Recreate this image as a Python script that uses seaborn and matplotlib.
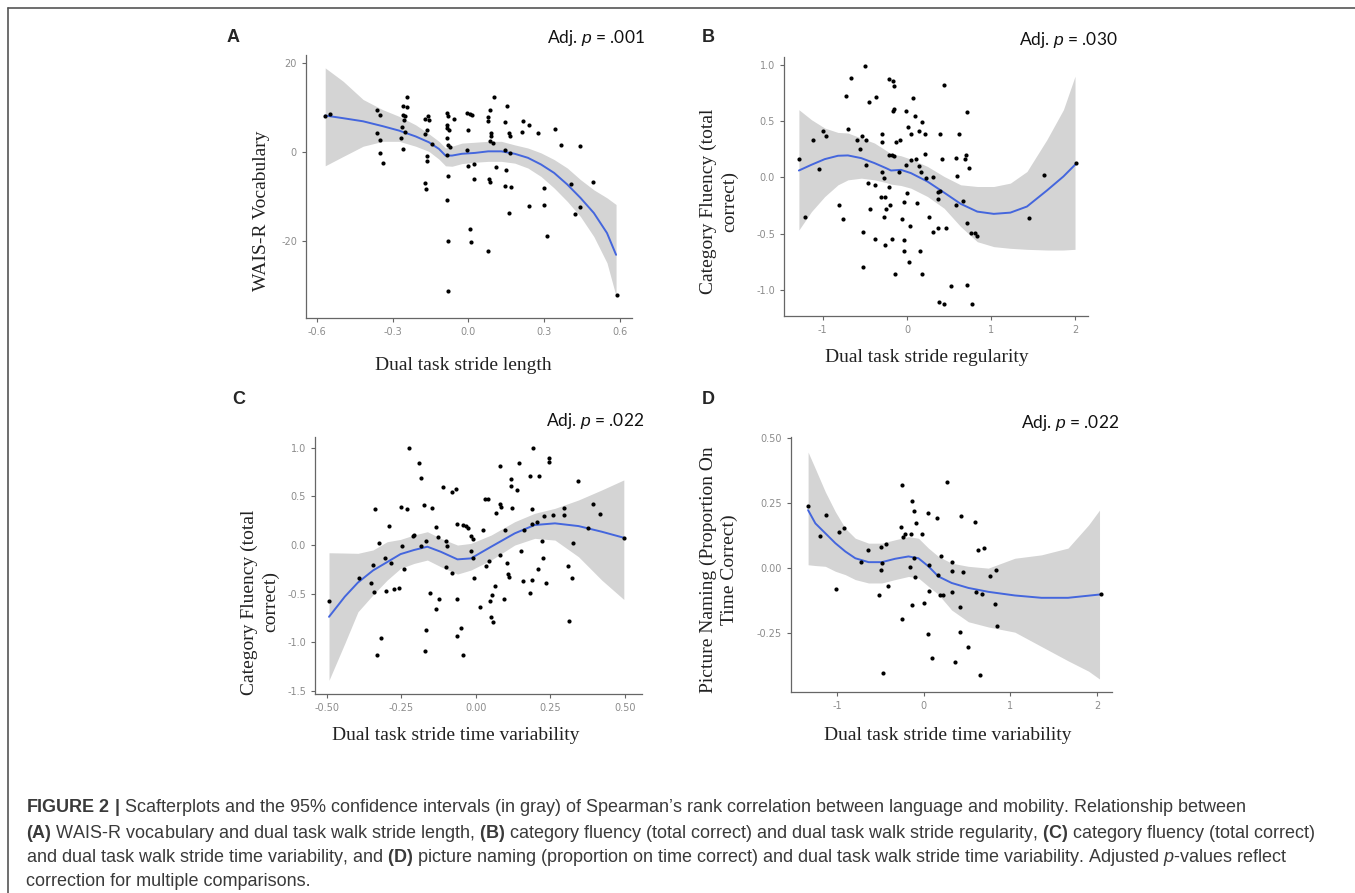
import matplotlib
matplotlib.use("Agg")
import matplotlib.pyplot as plt
import seaborn as sns
import pandas as pd
from matplotlib.lines import Line2D

sns.set_style("ticks")
plt.rcParams["mathtext.fontset"] = "custom"
plt.rcParams["mathtext.rm"] = "Liberation Sans"
plt.rcParams["mathtext.it"] = "Liberation Sans:italic"
plt.rcParams["mathtext.bf"] = "Liberation Sans:bold"

W, H = 1355, 893

# ---- panel A: WAIS-R vocabulary vs dual task stride length
a_points = [(-0.567, 8.2), (-0.548, 8.5), (-0.361, 9.4), (-0.352, 8.4), (-0.361, 4.3), (-0.35, 2.6),
            (-0.35, -0.2), (-0.338, -2.5), (-0.245, 12.4), (-0.261, 10.3), (-0.245, 10.1), (-0.26, 8.4),
            (-0.25, 8.0), (-0.256, 7.3), (-0.265, 5.6), (-0.25, 4.4), (-0.267, 3.1), (-0.26, 0.7),
            (-0.173, 7.4), (-0.159, 8.0), (-0.157, 7.1), (-0.166, 4.9), (-0.172, 4.1), (-0.146, 1.9),
            (-0.163, -1.0), (-0.163, -2.1), (-0.172, -7.0), (-0.167, -8.3), (-0.085, 8.8), (-0.082, 8.0),
            (-0.059, 7.5), (-0.085, 6.1), (-0.087, 5.4), (-0.078, 4.9), (-0.085, 3.1), (-0.082, 1.5),
            (-0.072, 1.1), (-0.085, -0.6), (-0.081, -5.3), (-0.085, -10.7), (-0.081, -20.1), (-0.082, -31.3),
            (-0.004, 8.8), (0.007, 8.6), (0.013, 8.4), (-0.003, 4.9), (-0.004, 0.4), (0.0, -3.1),
            (0.023, -2.8), (0.02, -6.0), (0.007, -17.2), (0.008, -20.2), (0.076, 7.8), (0.085, 9.4),
            (0.078, 6.9), (0.089, 4.3), (0.091, 3.7), (0.085, 2.4), (0.095, 2.0), (0.081, -6.0),
            (0.085, -6.7), (0.076, -22.2), (0.102, 12.3), (0.108, -3.4), (0.154, 10.4), (0.146, 6.7),
            (0.16, 4.3), (0.163, 3.5), (0.146, 0.4), (0.163, -0.2), (0.147, -4.1), (0.143, -7.6),
            (0.17, -7.9), (0.16, -13.7), (0.215, 6.9), (0.213, 4.6), (0.241, 6.1), (0.274, 4.3),
            (0.239, -12.1), (0.297, -8.1), (0.3, -11.8), (0.31, -18.9), (0.342, 5.2), (0.365, 1.5),
            (0.404, -7.1), (0.443, 1.3), (0.421, -13.9), (0.443, -12.4), (0.492, -6.8), (0.587, -32.1)]
a_fit_x = [-0.567, -0.496, -0.417, -0.339, -0.274, -0.209, -0.157, -0.117, -0.091, -0.065, -0.026, 0.026,
           0.078, 0.13, 0.183, 0.235, 0.287, 0.339, 0.391, 0.443, 0.496, 0.548, 0.584]
a_fit_y = [8.2, 7.6, 6.9, 5.8, 4.8, 3.5, 2.2, 0.7, -0.8, -0.8, -0.4, -0.2,
           0.15, 0.15, -0.4, -1.3, -2.8, -4.7, -7.3, -10.3, -13.7, -18.2, -23.1]
a_band_x = a_fit_x
a_band_lo = [-3.1, -1.0, 1.3, 2.4, 2.4, 1.3, 0.15, -1.6, -3.1, -3.2, -2.6, -2.3,
             -2.1, -2.1, -2.5, -3.6, -5.5, -8.1, -11.1, -14.5, -19.0, -24.9, -32.4]
a_band_hi = [18.9, 15.9, 11.8, 9.5, 8.0, 6.1, 4.1, 2.4, 0.9, 1.3, 2.0, 2.2,
             2.4, 2.4, 1.6, 0.9, -0.2, -1.7, -3.6, -6.2, -8.5, -10.3, -11.8]

# ---- panel B: category fluency vs stride regularity
b_points = [(-1.283, 0.163), (-1.205, -0.353), (-1.114, 0.329), (-1.047, 0.077), (-0.996, 0.415),
            (-0.957, 0.371), (-0.811, -0.243), (-0.76, -0.368), (-0.701, 0.43), (-0.72, 0.727),
            (-0.661, 0.884), (-0.591, 0.329), (-0.563, 0.252), (-0.531, 0.371), (-0.504, 0.991),
            (-0.492, 0.329), (-0.484, 0.107), (-0.465, -0.045), (-0.516, -0.487), (-0.516, -0.792),
            (-0.453, 0.668), (-0.433, -0.279), (-0.366, 0.715), (-0.374, -0.065), (-0.378, -0.549),
            (-0.307, -0.169), (-0.299, 0.389), (-0.295, 0.312), (-0.295, 0.053), (-0.276, -0.006),
            (-0.26, -0.175), (-0.248, -0.282), (-0.268, -0.347), (-0.26, -0.599), (-0.209, 0.875),
            (-0.169, 0.855), (-0.157, 0.816), (-0.157, 0.608), (-0.161, 0.593), (-0.209, 0.202),
            (-0.177, 0.199), (-0.15, 0.187), (-0.209, -0.08), (-0.197, -0.243), (-0.181, -0.549),
            (-0.13, 0.312), (-0.079, 0.335), (-0.091, 0.045), (-0.138, -0.861), (-0.012, 0.593),
            (0.008, 0.448), (0.047, 0.389), (0.075, 0.706), (0.094, 0.549), (-0.004, -0.134),
            (-0.039, -0.214), (-0.031, -0.555), (-0.039, -0.65), (-0.063, -0.368), (0.039, -0.427),
            (0.028, -0.748), (-0.012, 0.113), (0.047, 0.157), (0.106, 0.163), (0.118, -0.223),
            (0.138, 0.104), (0.146, 0.409), (0.173, 0.49), (0.165, 0.045), (0.217, 0.389),
            (0.217, 0.211), (0.224, -0.006), (0.157, -0.65), (0.177, -0.861), (0.264, -0.347),
            (0.311, 0.003), (0.315, -0.487), (0.37, -0.125), (0.394, -0.116), (0.37, -0.19),
            (0.374, -0.451), (0.394, 0.389), (0.413, 0.163), (0.441, 0.825), (0.469, -0.451),
            (0.382, -1.104), (0.441, -1.125), (0.528, -0.964), (0.579, 0.172), (0.579, -0.243),
            (0.598, 0.009), (0.618, 0.389), (0.669, -0.208), (0.685, 0.163), (0.705, 0.202),
            (0.717, 0.579), (0.736, 0.083), (0.709, -0.401), (0.764, -0.49), (0.803, -0.49),
            (0.835, -0.516), (0.709, -0.955), (0.776, -1.125), (1.445, -0.356), (1.63, 0.024),
            (2.004, 0.128)]
b_fit_x = [-1.283, -1.134, -0.976, -0.819, -0.701, -0.543, -0.386, -0.248, -0.189, -0.071, 0.047,
           0.244, 0.441, 0.638, 0.835, 1.031, 1.228, 1.425, 1.661, 1.858, 1.996]
b_fit_y = [0.062, 0.113, 0.163, 0.193, 0.196, 0.172, 0.128, 0.083, 0.062, 0.068, 0.039,
           -0.036, -0.134, -0.234, -0.303, -0.323, -0.312, -0.258, -0.116, 0.009, 0.113]
b_band_x = b_fit_x
b_band_lo = [-0.466, -0.303, -0.169, -0.065, -0.021, -0.006, -0.021, -0.045, -0.059, -0.071, -0.095,
             -0.169, -0.273, -0.436, -0.57, -0.614, -0.629, -0.638, -0.644, -0.644, -0.638]
b_band_hi = [0.602, 0.513, 0.439, 0.4, 0.395, 0.35, 0.306, 0.24, 0.21, 0.193, 0.163,
             0.098, 0.009, -0.065, -0.08, -0.08, -0.05, 0.053, 0.335, 0.602, 0.899]

# ---- panel C: category fluency vs stride time variability
c_points = [(-0.493, -0.576), (-0.394, -0.343), (-0.352, -0.394), (-0.343, -0.48), (-0.346, -0.203),
            (-0.338, 0.367), (-0.325, 0.017), (-0.305, -0.137), (-0.302, -0.473), (-0.293, 0.195),
            (-0.285, -0.189), (-0.276, -0.456), (-0.259, -0.439), (-0.251, 0.394), (-0.231, 0.374),
            (-0.248, -0.007), (-0.24, -0.25), (-0.226, 1.001), (-0.212, 0.093), (-0.209, 0.106),
            (-0.192, 0.847), (-0.186, 0.692), (-0.186, -0.007), (-0.175, 0.408), (-0.168, 0.041),
            (-0.154, -0.491), (-0.147, 0.384), (-0.135, 0.188), (-0.127, 0.085), (-0.124, -0.556),
            (-0.133, -0.658), (-0.109, 0.593), (-0.099, 0.041), (-0.096, -0.007), (-0.101, -0.223),
            (-0.082, 0.549), (-0.066, 0.573), (-0.081, -0.285), (-0.062, 0.213), (-0.062, -0.556),
            (-0.042, 0.206), (-0.034, 0.195), (-0.026, 0.172), (-0.017, 0.093), (-0.011, 0.058),
            (-0.017, -0.058), (-0.011, -0.13), (-0.006, -0.343), (0.014, -0.641), (0.024, 0.154),
            (0.03, 0.473), (0.04, 0.473), (0.034, -0.213), (0.045, -0.165), (0.047, -0.576),
            (0.065, -0.419), (0.054, -0.514), (0.068, 0.326), (0.079, 0.419), (0.084, 0.388),
            (0.082, 0.813), (0.082, -0.103), (0.096, 0.154), (0.094, -0.556), (0.104, -0.189),
            (0.109, -0.298), (0.11, -0.326), (0.116, 0.679), (0.116, 0.61), (0.122, 0.384),
            (0.136, 0.566), (0.144, 0.84), (0.152, -0.062), (0.16, 0.154), (0.158, -0.37),
            (0.18, -0.497), (0.182, 0.71), (0.19, 0.995), (0.189, 0.367), (0.189, 0.216),
            (0.189, -0.36), (0.204, 0.24), (0.208, -0.247), (0.212, 0.713), (0.22, 0.041),
            (0.225, -0.13), (0.229, 0.298), (0.234, -0.388), (0.244, 0.892), (0.246, 0.851),
            (0.257, 0.306), (0.296, 0.384), (0.296, 0.309), (0.31, -0.213), (0.321, -0.343),
            (0.312, -0.782), (0.327, 0.017), (0.341, 0.662), (0.375, 0.178), (0.391, 0.419),
            (0.417, 0.316), (0.496, 0.075), (-0.319, -0.953), (-0.332, -1.132), (-0.166, -0.868),
            (-0.171, -1.087), (-0.051, -0.851), (-0.062, -0.936), (-0.043, -1.132), (0.051, -0.744),
            (0.056, -0.789)]
c_fit_x = [-0.493, -0.44, -0.396, -0.345, -0.298, -0.253, -0.208, -0.163, -0.118, -0.062, -0.017,
           0.051, 0.13, 0.197, 0.265, 0.344, 0.422, 0.496]
c_fit_y = [-0.737, -0.53, -0.385, -0.26, -0.175, -0.093, -0.051, -0.017, -0.069, -0.147, -0.137,
           -0.017, 0.12, 0.206, 0.223, 0.195, 0.137, 0.075]
c_band_x = c_fit_x
c_band_lo = [-1.389, -1.01, -0.686, -0.51, -0.36, -0.24, -0.189, -0.154, -0.223, -0.298, -0.257,
             -0.154, 0.0, 0.069, 0.051, -0.12, -0.36, -0.559]
c_band_hi = [-0.079, -0.082, -0.085, -0.05, 0.034, 0.058, 0.103, 0.137, 0.069, 0.0, 0.017,
             0.103, 0.24, 0.326, 0.377, 0.463, 0.566, 0.669]

# ---- panel D: picture naming vs stride time variability
d_points = [(-1.333, 0.239), (-1.192, 0.125), (-1.123, 0.207), (-0.974, 0.141), (-0.923, 0.156),
            (-1.008, -0.079), (-0.724, 0.024), (-0.647, 0.071), (-0.514, -0.104), (-0.494, 0.081),
            (-0.483, 0.02), (-0.494, -0.008), (-0.437, 0.094), (-0.417, -0.066), (-0.253, 0.322),
            (-0.261, 0.16), (-0.241, 0.122), (-0.215, 0.131), (-0.138, 0.258), (-0.111, 0.221),
            (-0.092, 0.173), (-0.146, 0.132), (-0.164, 0.005), (-0.118, 0.039), (-0.1, -0.033),
            (-0.023, 0.132), (0.054, 0.214), (0.065, 0.014), (0.065, -0.088), (0.157, 0.195),
            (0.169, -0.024), (0.199, 0.046), (0.264, 0.332), (0.33, 0.024), (0.322, -0.011),
            (0.33, -0.092), (0.188, -0.103), (0.226, -0.104), (0.429, 0.201), (0.456, -0.014),
            (0.417, -0.148), (0.59, 0.179), (0.628, 0.069), (0.693, 0.077), (0.601, -0.092),
            (0.667, -0.1), (0.762, -0.031), (0.831, -0.005), (0.82, -0.135), (0.839, -0.221),
            (2.038, -0.1), (-0.138, -0.141), (0.008, -0.134), (-0.245, -0.196), (0.054, -0.253),
            (0.1, -0.346), (0.36, -0.358), (0.417, -0.244), (0.506, -0.302), (-0.471, -0.402),
            (0.647, -0.408)]
d_fit_x = [-1.333, -1.249, -1.134, -1.019, -0.904, -0.789, -0.636, -0.483, -0.33, -0.176, -0.061,
           0.054, 0.169, 0.322, 0.514, 0.744, 1.05, 1.356, 1.663, 2.038]
d_fit_y = [0.224, 0.173, 0.135, 0.097, 0.065, 0.039, 0.024, 0.024, 0.037, 0.046, 0.039,
           0.008, -0.031, -0.056, -0.075, -0.09, -0.104, -0.113, -0.113, -0.1]
d_band_x = [-1.333, -1.249, -1.134, -1.019, -0.904, -0.789, -0.636, -0.483, -0.33, -0.176, -0.061,
            0.054, 0.169, 0.322, 0.514, 0.744, 1.05, 1.356, 1.663, 1.9, 2.026]
d_band_lo = [0.014, 0.011, 0.008, -0.011, -0.024, -0.043, -0.056, -0.056, -0.043, -0.031, -0.037,
             -0.069, -0.1, -0.16, -0.205, -0.225, -0.245, -0.3, -0.355, -0.395, -0.425]
d_band_hi = [0.447, 0.383, 0.294, 0.218, 0.154, 0.116, 0.097, 0.097, 0.11, 0.122, 0.116,
             0.078, 0.046, 0.02, 0.008, 0.001, 0.039, 0.052, 0.078, 0.167, 0.224]

panel_letters = ["A", "B", "C", "D"]
p_labels = [r"Adj. $\mathit{p}$ = .001", r"Adj. $\mathit{p}$ = .030",
            r"Adj. $\mathit{p}$ = .022", r"Adj. $\mathit{p}$ = .022"]
x_titles = ["Dual task stride length", "Dual task stride regularity",
            "Dual task stride time variability", "Dual task stride time variability"]
y_titles = ["WAIS-R Vocabulary", "Category Fluency (total\ncorrect)",
            "Category Fluency (total\ncorrect)", "Picture Naming (Proportion On\nTime Correct)"]

a_xticks, a_xtl = [-0.6, -0.3, 0.0, 0.3, 0.6], ["-0.6", "-0.3", "0.0", "0.3", "0.6"]
a_yticks, a_ytl = [-20, 0, 20], ["-20", "0", "20"]
b_xticks, b_xtl = [-1, 0, 1, 2], ["-1", "0", "1", "2"]
b_yticks, b_ytl = [-1.0, -0.5, 0.0, 0.5, 1.0], ["-1.0", "-0.5", "0.0", "0.5", "1.0"]
c_xticks, c_xtl = [-0.5, -0.25, 0.0, 0.25, 0.5], ["-0.50", "-0.25", "0.00", "0.25", "0.50"]
c_yticks, c_ytl = [-1.5, -1.0, -0.5, 0.0, 0.5, 1.0], ["-1.5", "-1.0", "-0.5", "0.0", "0.5", "1.0"]
d_xticks, d_xtl = [-1, 0, 1, 2], ["-1", "0", "1", "2"]
d_yticks, d_ytl = [-0.25, 0.0, 0.25, 0.5], ["-0.25", "0.00", "0.25", "0.50"]

caption_lines = [
    r"$\mathbf{FIGURE\ 2\ |}$ Scafterplots and the 95% confidence intervals (in gray) of Spearman’s rank correlation between language and mobility. Relationship between",
    r"$\mathbf{(A)}$ WAIS-R vocabulary and dual task walk stride length, $\mathbf{(B)}$ category fluency (total correct) and dual task walk stride regularity, $\mathbf{(C)}$ category fluency (total correct)",
    r"and dual task walk stride time variability, and $\mathbf{(D)}$ picture naming (proportion on time correct) and dual task walk stride time variability. Adjusted $\mathit{p}$-values reflect",
    "correction for multiple comparisons.",
]


def fx(px):
    return px / W


def fy(py):
    return 1 - py / H


def draw_panel(fig, box, pts, fit_x, fit_y, band_x, lo, hi, xlim, ylim, xt, xtl, yt, ytl):
    l, t, r, b = box
    ax = fig.add_axes([fx(l), fy(b), (r - l) / W, (b - t) / H])
    ax.fill_between(band_x, lo, hi, color="#d4d4d4", lw=0, zorder=1)
    df = pd.DataFrame(pts, columns=["x", "y"])
    sns.scatterplot(data=df, x="x", y="y", ax=ax, color="black", s=9, linewidth=0, zorder=3)
    fit = pd.DataFrame({"x": fit_x, "y": fit_y})
    sns.lineplot(data=fit, x="x", y="y", ax=ax, color="#4466dd", lw=1.4, sort=False, zorder=2)
    ax.set_xlim(*xlim)
    ax.set_ylim(*ylim)
    ax.set_xticks(xt)
    ax.set_xticklabels(xtl)
    ax.set_yticks(yt)
    ax.set_yticklabels(ytl)
    ax.set_xlabel("")
    ax.set_ylabel("")
    for s in ["top", "right"]:
        ax.spines[s].set_visible(False)
    for s in ["left", "bottom"]:
        ax.spines[s].set_color("#666666")
        ax.spines[s].set_linewidth(0.9)
    ax.tick_params(colors="#666666", labelcolor="#8c8c8c", labelsize=7, length=3, width=0.8)
    ax.set_facecolor("white")
    return ax


fig = plt.figure(figsize=(W / 100, H / 100), dpi=100)

boxes = [(306, 55, 632, 318), (784, 57, 1088, 316), (315, 437, 642, 694), (791, 437, 1112, 692)]
limits = [((-0.643, 0.647), (-37.3, 21.8)), ((-1.46, 2.15), (-1.23, 1.07)),
          ((-0.54, 0.557), (-1.53, 1.11)), ((-1.53, 2.17), (-0.475, 0.505))]

draw_panel(fig, boxes[0], a_points, a_fit_x, a_fit_y, a_band_x, a_band_lo, a_band_hi,
           *limits[0], a_xticks, a_xtl, a_yticks, a_ytl)
draw_panel(fig, boxes[1], b_points, b_fit_x, b_fit_y, b_band_x, b_band_lo, b_band_hi,
           *limits[1], b_xticks, b_xtl, b_yticks, b_ytl)
draw_panel(fig, boxes[2], c_points, c_fit_x, c_fit_y, c_band_x, c_band_lo, c_band_hi,
           *limits[2], c_xticks, c_xtl, c_yticks, c_ytl)
draw_panel(fig, boxes[3], d_points, d_fit_x, d_fit_y, d_band_x, d_band_lo, d_band_hi,
           *limits[3], d_xticks, d_xtl, d_yticks, d_ytl)

# panel letters and p-values
letter_pos = [(233, 38), (708, 38), (239, 400), (708, 400)]
p_pos = [(645, 38), (1118, 40), (644, 421), (1119, 423)]
for i in range(4):
    fig.text(fx(letter_pos[i][0]), fy(letter_pos[i][1]), panel_letters[i], fontsize=13,
             fontweight="bold", family="Liberation Sans", ha="center", va="center")
    fig.text(fx(p_pos[i][0]), fy(p_pos[i][1]), p_labels[i], fontsize=12.5, family="Lato",
             ha="right", va="center", color="#111111")

# axis titles in serif
xlab_pos = [(463, 365), (927, 358), (456, 735), (948, 735)]
ylab_pos = [(262, 211), (719, 201), (260, 602), (719, 570)]
for i in range(4):
    fig.text(fx(xlab_pos[i][0]), fy(xlab_pos[i][1]), x_titles[i], fontsize=14,
             family="Liberation Serif", ha="center", va="center", color="#222222")
    fig.text(fx(ylab_pos[i][0]), fy(ylab_pos[i][1]), y_titles[i], fontsize=14, rotation=90,
             family="Liberation Serif", ha="center", va="center", color="#222222",
             multialignment="center", linespacing=1.25)

# caption
cap_y = [808, 833, 857, 882]
for line, y in zip(caption_lines, cap_y):
    fig.text(fx(26), fy(y), line, fontsize=13, family="Liberation Sans", ha="left", va="center",
             color="#3a3a3a")

# frame lines (top and left)
fig.add_artist(Line2D([fx(8), fx(1355)], [fy(8), fy(8)], color="#555555", lw=1.2, transform=fig.transFigure))
fig.add_artist(Line2D([fx(8), fx(8)], [fy(8), fy(893)], color="#555555", lw=1.2, transform=fig.transFigure))

fig.savefig("out.png", dpi=100)
